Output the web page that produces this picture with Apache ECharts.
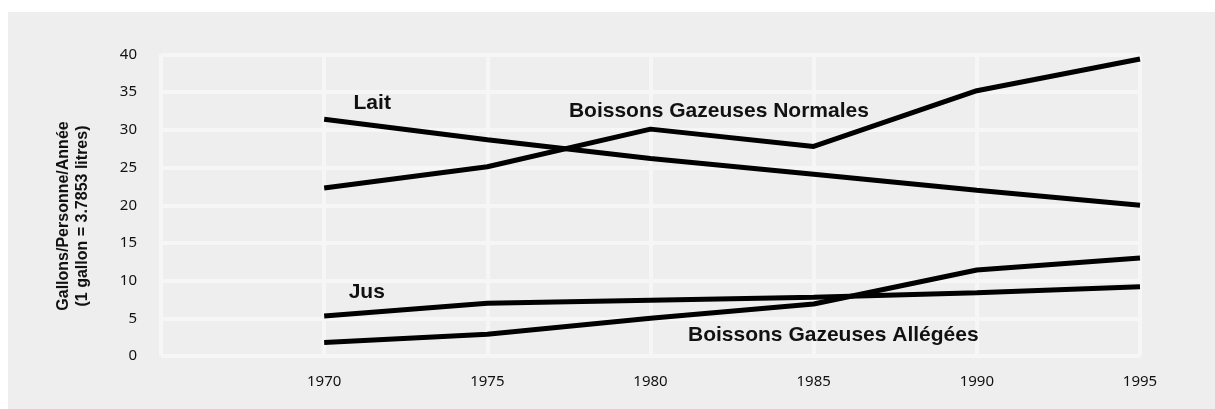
<!DOCTYPE html>
<html>
<head>
<meta charset="utf-8">
<title>Consommation de boissons</title>
<script src="https://cdn.jsdelivr.net/npm/echarts@6/dist/echarts.min.js"></script>
<style>
  html, body { margin: 0; padding: 0; background: #fff; }
  #chart { width: 1215px; height: 409px; }
</style>
</head>
<body>
<div id="chart"></div>
<script>
// années (axe x)
const years = [1970, 1975, 1980, 1985, 1990, 1995];
// gallons / personne / année
const lait = [31.4, 28.7, 26.2, 24.1, 22.0, 20.0];
const gazeusesNormales = [22.3, 25.1, 30.1, 27.8, 35.2, 39.4];
const jus = [5.3, 7.0, 7.4, 7.8, 8.4, 9.2];
const gazeusesAllegees = [1.8, 2.9, 5.0, 6.9, 11.4, 13.0];
const seriesNames = ["Lait", "Boissons Gazeuses Normales", "Jus", "Boissons Gazeuses Allégées"];
const yTicks = [0, 5, 10, 15, 20, 25, 30, 35, 40];

const chart = echarts.init(document.getElementById("chart"));

const gridColor = "#f6f6f6";
const labelFont = "Liberation Sans";

// petite étiquette posée sur le graphe (coordonnées en unités de données)
function nameTag(text, x, y) {
  return {
    symbol: "circle",
    symbolSize: 0,
    silent: true,
    animation: false,
    data: [{ coord: [x, y] }],
    label: {
      show: true,
      position: "right",
      distance: 0,
      formatter: text,
      color: "#111",
      fontFamily: labelFont,
      fontWeight: "bold",
      fontSize: 21
    }
  };
}

function makeLine(name, values, tag) {
  return {
    name: name,
    type: "line",
    data: years.map((yr, i) => [yr, values[i]]),
    showSymbol: false,
    symbol: "none",
    lineStyle: { color: "#000", width: 5 },
    itemStyle: { color: "#000" },
    z: 3,
    markPoint: tag
  };
}

const option = {
  animation: false,
  backgroundColor: "#fff",
  graphic: [
    {
      type: "rect",
      z: -10,
      silent: true,
      shape: { x: 8, y: 12, width: 1207, height: 397 },
      style: { fill: "#eeeeee" }
    },
    {
      type: "text",
      z: 10,
      x: 73,
      y: 216,
      rotation: Math.PI / 2,
      style: {
        text: "Gallons/Personne/Année\n(1 gallon = 3.7853 litres)",
        fontFamily: labelFont,
        fontWeight: "bold",
        fontSize: 16,
        lineHeight: 19,
        fill: "#111",
        align: "center",
        verticalAlign: "middle"
      }
    }
  ],
  grid: {
    left: 161,
    right: 75,
    top: 54.5,
    bottom: 53
  },
  xAxis: {
    type: "value",
    min: 1965,
    max: 1995,
    interval: 5,
    axisLine: { show: false },
    axisTick: { show: false },
    axisLabel: {
      margin: 18,
      fontFamily: "Noto Sans",
      fontSize: 15,
      color: "#111",
      formatter: v => (v === 1965 ? "" : String(v))
    },
    splitLine: { show: true, lineStyle: { color: gridColor, width: 4 } }
  },
  yAxis: {
    type: "value",
    min: yTicks[0],
    max: yTicks[yTicks.length - 1],
    interval: 5,
    axisLine: { show: false },
    axisTick: { show: false },
    axisLabel: {
      margin: 24,
      fontFamily: "Noto Sans",
      fontSize: 15,
      color: "#111"
    },
    splitLine: { show: true, lineStyle: { color: gridColor, width: 4 } }
  },
  series: [
    makeLine(seriesNames[0], lait, nameTag(seriesNames[0], 1970.9, 33.6)),
    makeLine(seriesNames[1], gazeusesNormales, nameTag(seriesNames[1], 1977.5, 32.5)),
    makeLine(seriesNames[2], jus, nameTag(seriesNames[2], 1970.75, 8.5)),
    makeLine(seriesNames[3], gazeusesAllegees, nameTag(seriesNames[3], 1981.15, 2.8))
  ]
};

chart.setOption(option);
</script>
</body>
</html>
